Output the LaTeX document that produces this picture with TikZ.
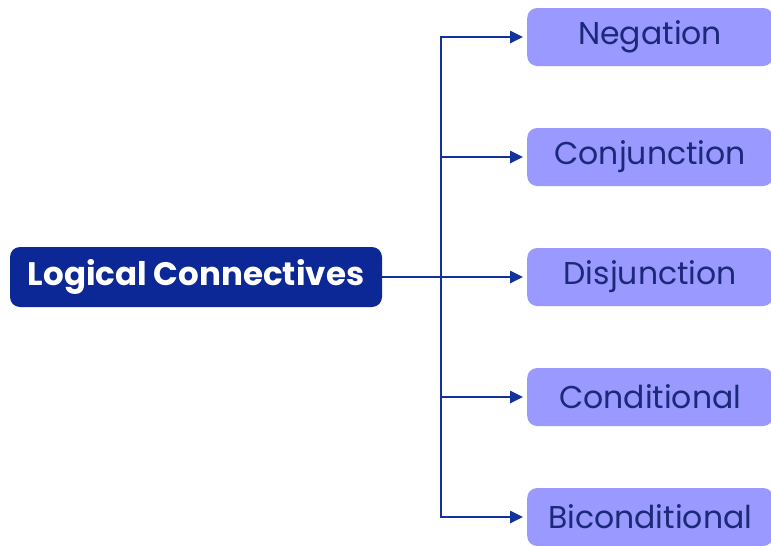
\documentclass[tikz,border=0pt]{standalone}
\usepackage{fontspec}
\setmainfont{Poppins}
\usetikzlibrary{arrows.meta}
\definecolor{rootblue}{RGB}{12,40,150}
\definecolor{leafviolet}{RGB}{153,153,255}
\definecolor{leaftext}{RGB}{28,40,120}
\definecolor{linkblue}{RGB}{20,50,155}
\begin{document}
\begin{tikzpicture}[x=1pt,y=-1pt,
  rootbox/.style={fill=rootblue, rounded corners=10pt, minimum width=372pt, minimum height=60pt,
    text=white, font=\fontsize{32.5}{32.5}\selectfont\bfseries, inner sep=0pt},
  leafbox/.style={fill=leafviolet, rounded corners=10pt, minimum width=246pt, minimum height=58pt,
    text=leaftext, font=\fontsize{31.5}{31.5}\selectfont, inner sep=0pt, anchor=west},
  link/.style={draw=linkblue, line width=2.6pt},
  arrowlink/.style={link, -{Triangle[length=13pt,width=12pt]}}]
\useasboundingbox (0,0) rectangle (771,546);
\node[rootbox] (root) at (196,277) {Logical Connectives};
\node[leafbox] (neg) at (527,37) {Negation};
\node[leafbox] (con) at (527,157) {Conjunction};
\node[leafbox] (dis) at (527,277) {Disjunction};
\node[leafbox] (cnd) at (527,397) {Conditional};
\node[leafbox] (bic) at (527,517) {Biconditional};
\coordinate (top) at (441,37);
\coordinate (bot) at (441,517);
\draw[link] ([yshift=-1.3pt]top) -- ([yshift=1.3pt]bot);
\draw[link] (root.east) -- (441,277);
\draw[arrowlink] ([xshift=-1.3pt]top) -- ([xshift=-4pt]neg.west);
\draw[arrowlink] (441,157) -- ([xshift=-4pt]con.west);
\draw[arrowlink] (441,277) -- ([xshift=-4pt]dis.west);
\draw[arrowlink] (441,397) -- ([xshift=-4pt]cnd.west);
\draw[arrowlink] ([xshift=-1.3pt]bot) -- ([xshift=-4pt]bic.west);
\end{tikzpicture}
\end{document}
